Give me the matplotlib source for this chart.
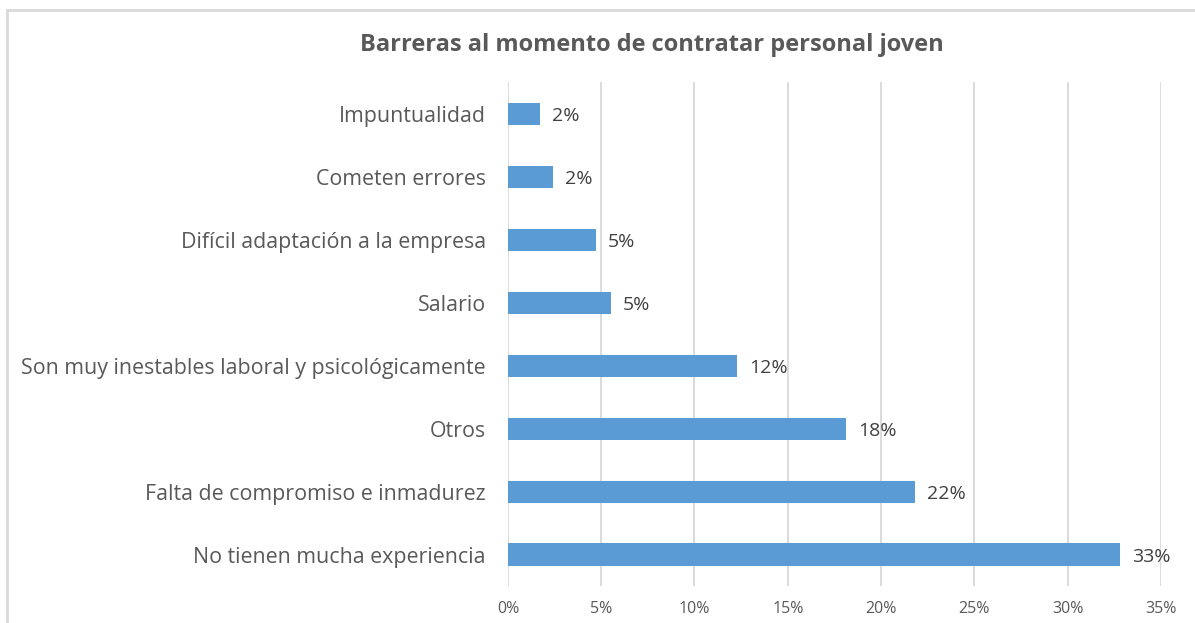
import matplotlib.pyplot as plt
from matplotlib.patches import Rectangle

categories = [
    "No tienen mucha experiencia",
    "Falta de compromiso e inmadurez",
    "Otros",
    "Son muy inestables laboral y psicológicamente",
    "Salario",
    "Difícil adaptación a la empresa",
    "Cometen errores",
    "Impuntualidad",
]
values = [32.8, 21.8, 18.1, 12.3, 5.5, 4.7, 2.4, 1.7]
value_labels = ["33%", "22%", "18%", "12%", "5%", "5%", "2%", "2%"]
ticks = [0, 5, 10, 15, 20, 25, 30, 35]
tick_labels = ["0%", "5%", "10%", "15%", "20%", "25%", "30%", "35%"]

plt.rcParams['font.family'] = ['Open Sans', 'DejaVu Sans']

fig = plt.figure(figsize=(11.95, 6.23), dpi=100)
ax = fig.add_axes([0.425, 0.0594, 0.5466, 0.8086])

# chart border (only top and left show in the crop)
fig.patches.append(Rectangle((7 / 1195, -0.1), 1.2, 1 - 10 / 623 + 0.1,
                             transform=fig.transFigure, fill=False,
                             edgecolor='#d9d9d9', linewidth=2))

y = range(len(categories))
ax.barh(y, values, height=0.35, color='#5b9bd5', zorder=3)
for i, (v, lab) in enumerate(zip(values, value_labels)):
    ax.text(v + 0.65, i, lab, va='center_baseline', ha='left', fontsize=14, color='#404040')

ax.set_xlim(0, 35)
ax.set_ylim(-0.5, len(categories) - 0.5)
ax.set_xticks(ticks)
ax.set_xticklabels(tick_labels, fontsize=11.5, color='#595959')
ax.set_yticks(list(y))
ax.set_yticklabels(categories, fontsize=15.4, color='#595959')
ax.tick_params(axis='both', length=0)
ax.tick_params(axis='y', pad=16)
ax.tick_params(axis='x', pad=11)
ax.grid(axis='x', color='#d9d9d9', linewidth=1.3, zorder=0)
for s in ax.spines.values():
    s.set_visible(False)

fig.text(652 / 1195, 1 - 45 / 623, "Barreras al momento de contratar personal joven",
         ha='center', va='center', fontsize=17, fontweight='bold', color='#595959')

fig.savefig("out.png", dpi=100)
